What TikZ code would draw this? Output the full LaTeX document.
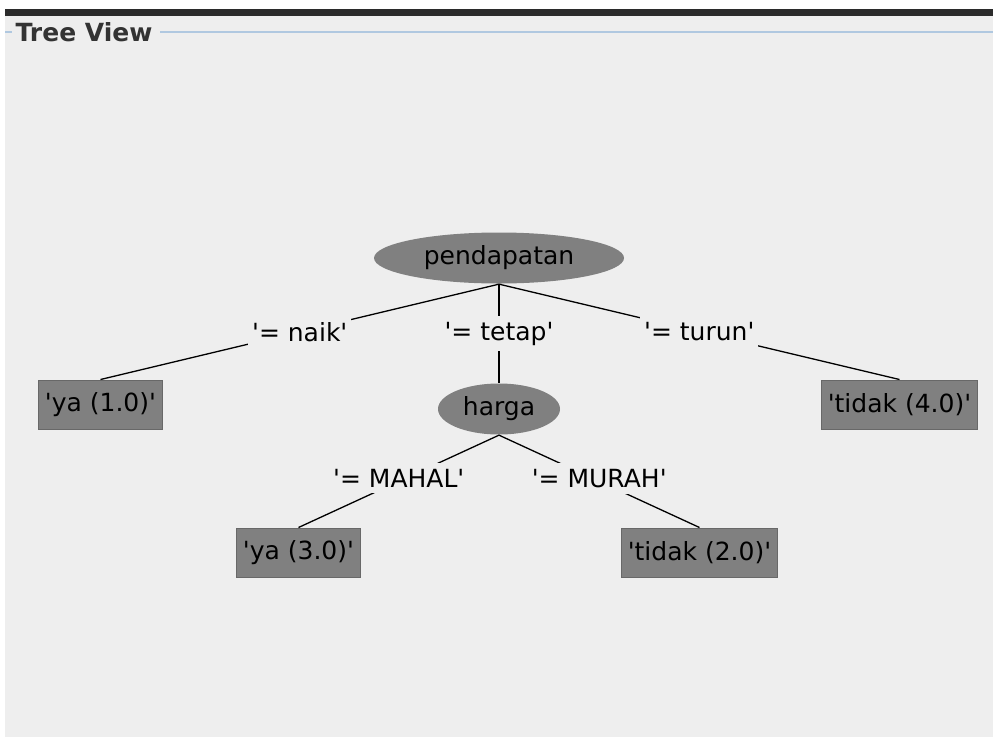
\documentclass[tikz,border=0pt]{standalone}
\usepackage{fontspec}
\setmainfont{DejaVu Sans}
\usetikzlibrary{shapes.geometric}
\definecolor{panelbg}{HTML}{EEEEEE}
\definecolor{topbar}{HTML}{2B2B2B}
\definecolor{titleline}{HTML}{B0C8E0}
\definecolor{nodefill}{HTML}{808080}
\definecolor{boxline}{HTML}{686868}
\definecolor{titletext}{HTML}{333333}
\newcommand{\aps}{\textquotesingle}

\begin{document}
\begin{tikzpicture}[x=1pt,y=-1pt,line width=1.3pt,
  font=\fontsize{25}{30}\selectfont,
  splitnode/.style={ellipse,fill=nodefill,inner sep=0pt,minimum height=51pt},
  leafbox/.style={rectangle,fill=nodefill,draw=boxline,line width=1pt,inner xsep=6.5pt,minimum height=49pt},
  branchlbl/.style={fill=panelbg,inner xsep=4pt,inner ysep=6pt}]
\useasboundingbox (0,0) rectangle (993,737);
\fill[white] (0,0) rectangle (993,737);
\fill[panelbg] (5,16) rectangle (993,737);
\fill[topbar] (5,9) rectangle (993,16);
% panel title
\node[anchor=west,inner sep=0pt,font=\fontsize{25}{30}\selectfont\bfseries,text=titletext] (title) at (15,32){Tree View};
\draw[titleline,line width=1.2pt] (5,32) -- (12,32);
\draw[titleline,line width=1.2pt] (160,32) -- (993,32);
% tree nodes
\node[splitnode,minimum width=250pt] (pendapatan) at (499,258){pendapatan};
\node[splitnode,minimum width=122pt] (harga) at (499,409){harga};
\node[leafbox] (ya1) at (100.5,404.5){\aps ya (1.0)\aps};
\node[leafbox] (tidak4) at (899.5,404.5){\aps tidak (4.0)\aps};
\node[leafbox] (ya3) at (298.5,552.5){\aps ya (3.0)\aps};
\node[leafbox] (tidak2) at (699.5,552.5){\aps tidak (2.0)\aps};
% branches
\draw (pendapatan.south) -- node[branchlbl]{\aps= naik\aps} (ya1.north);
\draw (pendapatan.south) -- node[branchlbl]{\aps= tetap\aps} (harga.north);
\draw (pendapatan.south) -- node[branchlbl]{\aps= turun\aps} (tidak4.north);
\draw (harga.south) -- node[branchlbl,yshift=3pt]{\aps= MAHAL\aps} (ya3.north);
\draw (harga.south) -- node[branchlbl,yshift=3pt]{\aps= MURAH\aps} (tidak2.north);
\end{tikzpicture}
\end{document}
